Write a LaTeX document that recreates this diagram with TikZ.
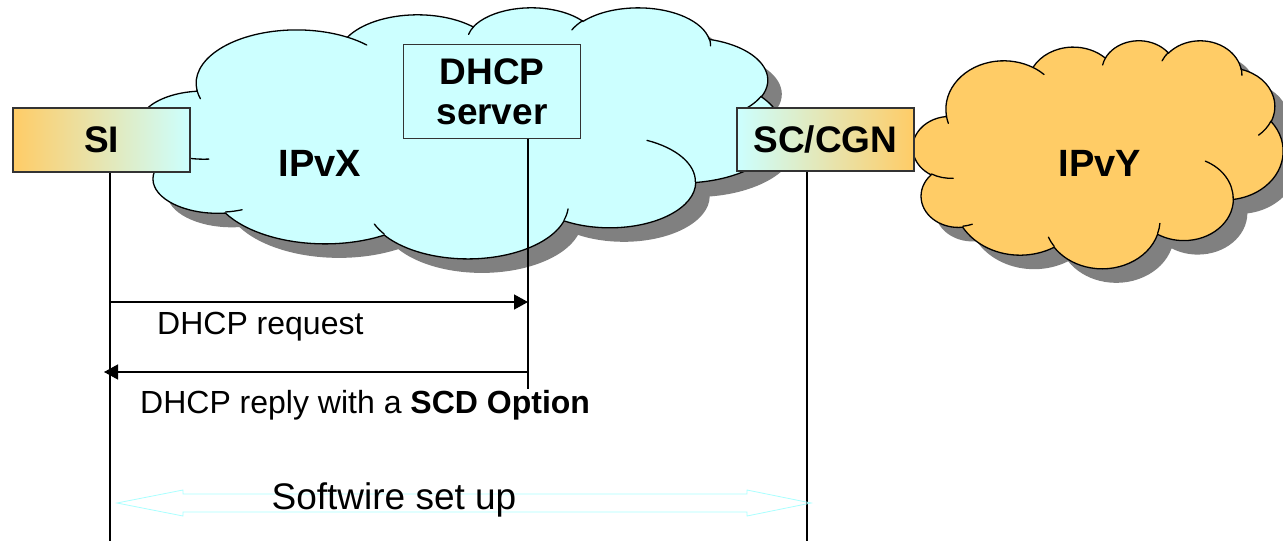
\documentclass[tikz,border=0pt]{standalone}
\usepackage{fontspec}
\setmainfont{Liberation Sans}
\usetikzlibrary{arrows.meta}
\definecolor{cyanfill}{RGB}{204,255,255}
\definecolor{orangefill}{RGB}{255,204,102}
\definecolor{shadowgray}{RGB}{128,128,128}
\definecolor{swcyan}{RGB}{170,255,255}
% arc given as in DrawingML: radii, start angle and sweep (visual angles)
\newcommand\ooarc[4]{\pgfextra{%
  \pgfmathsetmacro\ooA{atan2((#1)*sin(#3),(#2)*cos(#3))}%
  \pgfmathsetmacro\ooB{atan2((#1)*sin((#3)+(#4)),(#2)*cos((#3)+(#4)))}%
  \pgfmathsetmacro\ooD{mod(\ooB-\ooA+720,360)}%
  }arc[x radius=#1, y radius=#2, start angle=\ooA, delta angle=\ooD]}
\newcommand\cloudoutline{(39.00,143.70)
  \ooarc{67.53}{91.90}{-190.4875}{123.7805}
  \ooarc{53.33}{72.67}{-144.1024}{89.9452}
  \ooarc{43.65}{59.45}{-145.8079}{99.7230}
  \ooarc{48.57}{65.95}{-130.9861}{117.2417}
  \ooarc{53.33}{72.73}{-78.7089}{109.0269}
  \ooarc{67.75}{92.20}{-46.2673}{130.2690}
  \ooarc{57.85}{78.67}{0.6250}{114.0333}
  \ooarc{67.52}{92.15}{22.4516}{115.1726}
  \ooarc{77.20}{105.43}{66.2426}{75.7110}
  \ooarc{43.60}{59.18}{-274.9421}{146.7356}
  \ooarc{43.45}{59.45}{-246.8285}{152.5189} -- cycle}
\newcommand\cloudinner{
  (46.93,261.77) \ooarc{43.45}{59.45}{86.7420}{26.4295}
  (69.28,348.99) \ooarc{43.60}{59.18}{73.6105}{11.4475}
  (164.78,390.90) \ooarc{67.52}{92.15}{137.6242}{14.0811}
  (288.27,347.51) \ooarc{67.52}{92.15}{6.4533}{15.9984}
  (341.29,229.54) \ooarc{57.85}{78.67}{-70.2924}{70.9174}
  (417.98,153.54) \ooarc{53.33}{72.73}{30.3180}{27.7515}
  (383.24,54.26) \ooarc{48.57}{65.95}{-13.7443}{14.8589}
  (290.78,39.52) \ooarc{48.57}{65.95}{-149.1815}{18.1954}
  (221.41,47.20) \ooarc{43.65}{59.45}{-163.4943}{17.6864}
  (140.00,51.92) \ooarc{67.53}{91.90}{-66.7070}{12.3194}
  (41.27,157.89) \ooarc{67.53}{91.90}{157.6544}{11.8582}}
\tikzset{
  cloudline/.style={draw=black, line width=1.3pt},
  cloudshadow/.style={fill=shadowgray},
  cloudlabel/.style={font=\fontsize{38}{40}\selectfont\bfseries},
  endbox/.style={draw=black!80, line width=1.3pt, inner sep=0pt,
    font=\fontsize{37}{40}\selectfont\bfseries},
  lifeline/.style={line width=1.4pt, black},
  msg/.style={line width=1.4pt, black, -{Triangle[length=14pt,width=15pt]}},
  msglabel/.style={anchor=west, inner sep=0pt, font=\fontsize{32}{36}\selectfont},
}
\begin{document}
\begin{tikzpicture}[x=1pt,y=-1pt]
\useasboundingbox[fill=white] (0,0) rectangle (1283,541);
% IPvX cloud
\begin{scope}[shift={(153,21)}, x=1.4884pt, y=-0.5810pt]
  \fill[cloudshadow] \cloudoutline;
\end{scope}
\begin{scope}[shift={(139,7)}, x=1.4884pt, y=-0.5810pt]
  \fill[cyanfill] \cloudoutline;
  \draw[cloudline, line cap=round] \cloudoutline;
  \draw[cloudline, line cap=round] \cloudinner;
\end{scope}
\node[cloudlabel] (ipvxlab) at (320,163) {IPvX};
% IPvY cloud
\begin{scope}[shift={(927,54)}, x=0.8565pt, y=-0.5278pt]
  \fill[cloudshadow] \cloudoutline;
\end{scope}
\begin{scope}[shift={(913,40)}, x=0.8565pt, y=-0.5278pt]
  \fill[orangefill] \cloudoutline;
  \draw[cloudline, line cap=round] \cloudoutline;
  \draw[cloudline, line cap=round] \cloudinner;
\end{scope}
\node[cloudlabel] (ipvylab) at (1100,163) {IPvY};
% boxes
\node[endbox, left color=orangefill, right color=cyanfill, minimum width=177pt, minimum height=64pt] (si) at (101.5,140) {SI};
\node[endbox, fill=cyanfill, minimum width=177pt, minimum height=94pt, align=center] (dhcp) at (492,91.5) {DHCP\\server};
\node[endbox, left color=cyanfill, right color=orangefill, minimum width=177pt, minimum height=63pt] (sc) at (825.5,139.5) {SC/CGN};
% lifelines
\coordinate (siend) at (110,541);
\coordinate (scend) at (807,541);
\coordinate (dhcpend) at (528,389);
\draw[lifeline] (si.south -| siend) -- (siend);
\draw[lifeline] (dhcp.south -| dhcpend) -- (dhcpend);
\draw[lifeline] (sc.south -| scend) -- (scend);
% messages
\coordinate (reqs) at (110,302);
\coordinate (reqe) at (528,302);
\draw[msg] (reqs) -- (reqe);
\node[msglabel] (reqlab) at (157,327) {DHCP request};
\coordinate (reps) at (528,372);
\coordinate (repe) at (104,372);
\draw[msg] (reps) -- (repe);
\node[msglabel] (replab) at (140,405) {DHCP reply with a \textbf{SCD Option}};
% softwire
\coordinate (swl) at (117,503);
\coordinate (swr) at (811,503);
\draw[swcyan, line width=0.8pt] (swl) -- ++(66,-13) -- ++(0,4) -- (747,494) -- (747,490) -- (swr)
  -- (747,516) -- (747,512) -- (183,512) -- (183,516) -- cycle;
\node[font=\fontsize{37}{40}\selectfont, inner sep=0pt] (swlab) at (394,500) {Softwire set up};
\end{tikzpicture}
\end{document}
